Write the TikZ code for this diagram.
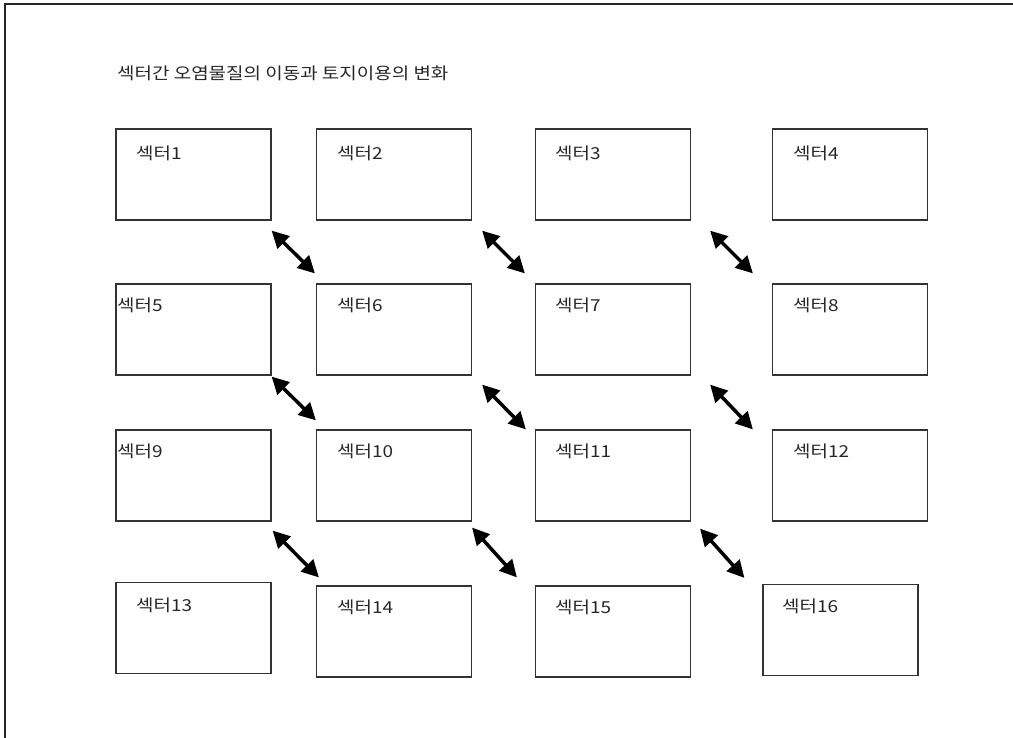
\documentclass[tikz,border=0pt]{standalone}
\usepackage{fontspec}
\newfontfamily\kr[FakeStretch=1.15]{Noto Sans CJK KR}
\usetikzlibrary{arrows.meta,calc}
\tikzset{
  box/.style={draw=black!80, line width=1.2pt, minimum width=155pt, minimum height=91pt, inner sep=0pt},
  lbl/.style={anchor=west, inner sep=0pt, font=\kr\fontsize{16.5}{19}\selectfont, text=black!85},
  dbl/.style={line width=3.5pt, {Triangle[length=17pt,width=17pt]}-{Triangle[length=17pt,width=17pt]}},
}
\begin{document}
\begin{tikzpicture}[x=1pt,y=-1pt]
\useasboundingbox (0,0) rectangle (1013,738);
\draw[line width=2pt, black!85] (4.5,738) -- (4.5,4) -- (1013,4);
\node[lbl] (title) at (117,73) {섹터간 오염물질의 이동과 토지이용의 변화};
% boxes
\node[box] (b1) at (193.5,174.5) {};
\node[box] (b2) at (394,174.5) {};
\node[box] (b3) at (613,174.5) {};
\node[box] (b4) at (850,174.5) {};
\node[box] (b5) at (193.5,329.5) {};
\node[box] (b6) at (394,329.5) {};
\node[box] (b7) at (613,329.5) {};
\node[box] (b8) at (850,329.5) {};
\node[box] (b9) at (193.5,475.5) {};
\node[box] (b10) at (394,475.5) {};
\node[box] (b11) at (613,475.5) {};
\node[box] (b12) at (850,475.5) {};
\node[box] (b13) at (193.5,628) {};
\node[box] (b14) at (394,631.5) {};
\node[box] (b15) at (613,631.5) {};
\node[box] (b16) at (840.5,630) {};
% labels
\node[lbl] (t1) at (136,153) {섹터1};
\node[lbl] (t2) at (337,153) {섹터2};
\node[lbl] (t3) at (555,153) {섹터3};
\node[lbl] (t4) at (793,153) {섹터4};
\node[lbl] (t5) at (117,305) {섹터5};
\node[lbl] (t6) at (337,305) {섹터6};
\node[lbl] (t7) at (555,305) {섹터7};
\node[lbl] (t8) at (793,305) {섹터8};
\node[lbl] (t9) at (117,451) {섹터9};
\node[lbl] (t10) at (337,451) {섹터10};
\node[lbl] (t11) at (555,451) {섹터11};
\node[lbl] (t12) at (793,451) {섹터12};
\node[lbl] (t13) at (136,605) {섹터13};
\node[lbl] (t14) at (337,607) {섹터14};
\node[lbl] (t15) at (555,607) {섹터15};
\node[lbl] (t16) at (782,606) {섹터16};
% arrows
\draw[dbl] ($(b1.south east)+(0,10)$) -- ($(b6.north west)+(-1,-10)$);
\draw[dbl] ($(b2.south east)+(10,10)$) -- ($(b7.north west)+(-10,-10)$);
\draw[dbl] ($(b3.south east)+(19,10)$) -- ($(b8.north west)+(-19,-10)$);
\draw[dbl] ($(b5.south east)+(0,1)$) -- ($(b10.north west)+(0,-9)$);
\draw[dbl] ($(b6.south east)+(10,9)$) -- ($(b11.north west)+(-9,0)$);
\draw[dbl] ($(b7.south east)+(19,9)$) -- ($(b12.north west)+(-19,0)$);
\draw[dbl] ($(b9.south east)+(1,9)$) -- ($(b14.north west)+(3,-8)$);
\draw[dbl] ($(b10.south east)+(0,6)$) -- ($(b15.north west)+(-18,-8)$);
\draw[dbl] ($(b11.south east)+(9,7)$) -- ($(b16.north west)+(-18,-6)$);
\end{tikzpicture}
\end{document}
